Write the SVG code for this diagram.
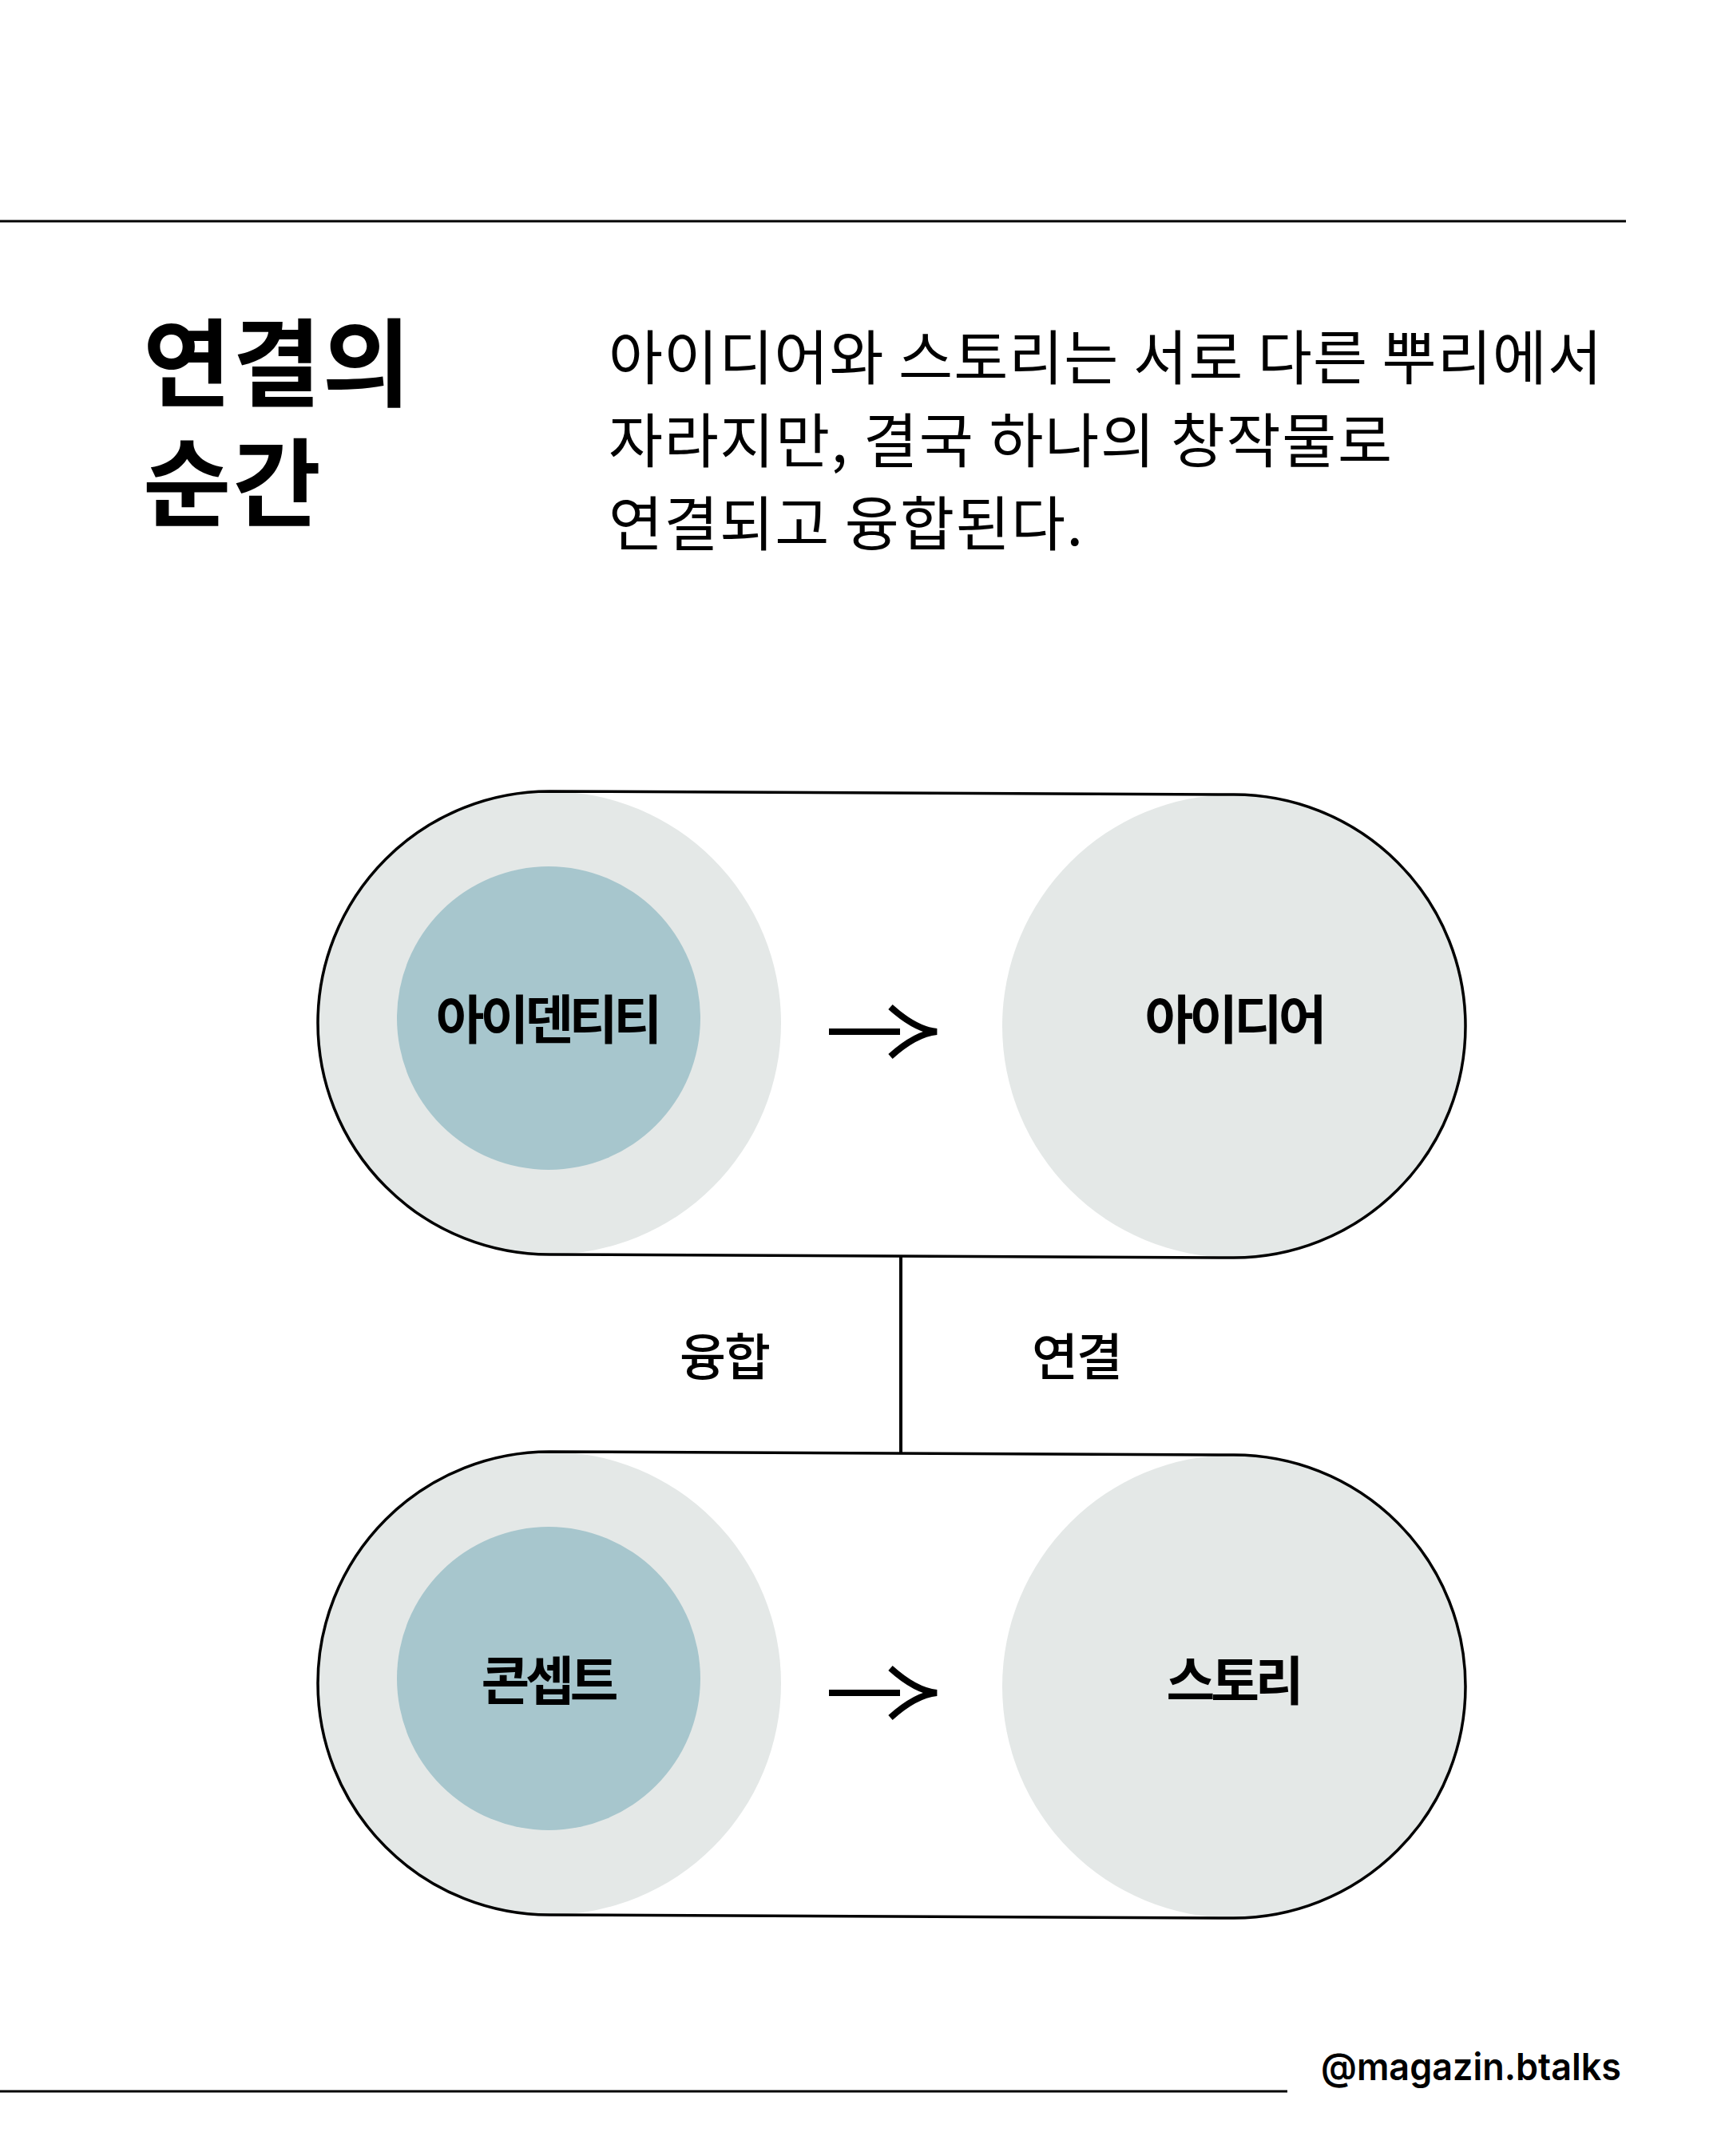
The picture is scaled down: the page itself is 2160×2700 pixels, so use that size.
<svg xmlns="http://www.w3.org/2000/svg" width="2160" height="2700" viewBox="0 0 2160 2700">
  <style>
    .rule { stroke: #000; stroke-width: 3; fill: none; }
    .outline { fill: none; stroke: #000; stroke-width: 3.5; }
    .outer { fill: #E4E8E7; }
    .inner { fill: #A7C6CD; }
    .kr { font-family: "Noto Sans CJK KR", "Noto Sans", sans-serif; fill: #000; }
    .title { font-size: 120px; font-weight: 700; letter-spacing: 2px; }
    .body { font-size: 74px; font-weight: 400; }
    .node { font-size: 66px; font-weight: 700; letter-spacing: -5px; text-anchor: middle; }
    .edge-label { font-size: 63px; font-weight: 500; letter-spacing: -2px; text-anchor: middle; }
    .conn { stroke: #000; stroke-width: 4; fill: none; }
    .arrow { stroke: #000; stroke-width: 8; fill: none; stroke-linejoin: bevel; stroke-linecap: butt; }
    .footer { font-family: Inter, "Liberation Sans", sans-serif; font-size: 47px; font-weight: 600; fill: #000; }
  </style>
  <defs>
    <path id="pill" d="M688,991 L1545,995 A290,290 0 0 1 1545,1575 L688,1571 A290,290 0 0 1 688,991 Z"/>
    <g id="arrowShape">
      <line x1="1038" y1="1292" x2="1127" y2="1292"/>
      <path d="M1115,1261 Q1146.5,1289.4 1173,1292 Q1146.5,1294.6 1115,1323"/>
    </g>
  </defs>

  <rect x="0" y="0" width="2160" height="2700" fill="#fff"/>

  <g id="header">
    <line class="rule" x1="0" y1="277" x2="2036" y2="277"/>
    <text class="kr title" x="179" y="500">연결의</text>
    <text class="kr title" x="179" y="650">순간</text>
    <text class="kr body" x="762" y="475" textLength="1244" lengthAdjust="spacing">아이디어와 스토리는 서로 다른 뿌리에서</text>
    <text class="kr body" x="762" y="579" textLength="981" lengthAdjust="spacing">자라지만, 결국 하나의 창작물로</text>
    <text class="kr body" x="762" y="683" textLength="594" lengthAdjust="spacing">연결되고 융합된다.</text>
  </g>

  <g id="group-top">
    <circle class="outer" cx="688" cy="1281" r="290"/>
    <circle class="outer" cx="1545" cy="1285" r="290"/>
    <use href="#pill" class="outline"/>
  </g>
  <g id="node-identity">
    <circle class="inner" cx="687" cy="1275" r="190"/>
    <text class="kr node" x="685" y="1301">아이덴티티</text>
  </g>
  <g id="node-idea">
    <text class="kr node" x="1545" y="1301">아이디어</text>
  </g>

  <g id="group-bottom">
    <circle class="outer" cx="688" cy="2108" r="290"/>
    <circle class="outer" cx="1545" cy="2112" r="290"/>
    <use href="#pill" class="outline" transform="translate(0,827)"/>
  </g>
  <g id="node-concept">
    <circle class="inner" cx="687" cy="2102" r="190"/>
    <text class="kr node" x="686" y="2129">콘셉트</text>
  </g>
  <g id="node-story">
    <text class="kr node" x="1544" y="2129">스토리</text>
  </g>

  <g id="connectors">
    <line class="conn" x1="1128" y1="1574" x2="1128" y2="1819"/>
    <use href="#arrowShape" class="arrow"/>
    <use href="#arrowShape" class="arrow" transform="translate(0,828)"/>
    <text class="kr edge-label" x="907" y="1722">융합</text>
    <text class="kr edge-label" x="1348" y="1722">연결</text>
  </g>

  <g id="footer">
    <line class="rule" x1="0" y1="2619" x2="1612" y2="2619"/>
    <text class="footer" x="1654" y="2605" textLength="376" lengthAdjust="spacingAndGlyphs">@magazin.btalks</text>
  </g>
</svg>
